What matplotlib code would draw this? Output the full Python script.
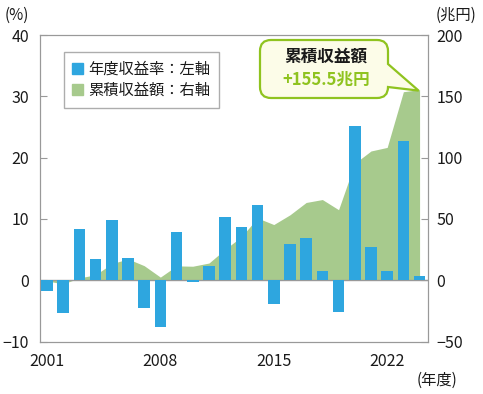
import matplotlib
matplotlib.use("Agg")
import matplotlib.pyplot as plt
import matplotlib.transforms as mtransforms
from matplotlib.path import Path
from matplotlib.patches import Patch, PathPatch

plt.rcParams['font.family'] = ['Noto Sans CJK JP', 'DejaVu Sans']

# fiscal years and values
years = list(range(2001, 2025))
rate = [-1.80, -5.36, 8.40, 3.39, 9.88, 3.70, -4.59, -7.57, 7.91, -0.25,
        2.32, 10.23, 8.64, 12.27, -3.81, 5.86, 6.90, 1.52, -5.20, 25.15,
        5.42, 1.50, 22.67, 0.71]
cum = [-0.58, -3.04, 1.85, 4.46, 13.42, 17.36, 11.85, 2.51, 11.69, 11.39,
       14.00, 25.22, 35.43, 50.72, 45.39, 53.32, 63.40, 65.78, 57.50, 95.30,
       105.39, 108.31, 153.73, 155.46]
xticks = [2001, 2008, 2015, 2022]
left_ticks = [-10, 0, 10, 20, 30, 40]
right_ticks = [-50, 0, 50, 100, 150, 200]

blue = '#2ea6df'
green = '#a7ca8d'
lime = '#8fc31f'
grey = '#999999'
txt = '#1a1a1a'

W, H = 483, 394
fig = plt.figure(figsize=(W / 100, H / 100), dpi=100)
ax = fig.add_axes([40 / W, 1 - 341.5 / H, 388 / W, 306.5 / H])
ax2 = ax.twinx()
ax.set_zorder(ax2.get_zorder() + 1)
ax.patch.set_visible(False)

ax2.fill_between(years, cum, 0, color=green, lw=0)
ax.bar(years, rate, width=0.72, color=blue, zorder=3)
ax.axhline(0, color=grey, lw=1, zorder=2)

ax.set_xlim(2000.57, 2024.52)
ax.set_ylim(-10, 40)
ax2.set_ylim(-50, 200)
ax.set_xticks(xticks)
ax.set_yticks(left_ticks)
ax2.set_yticks(right_ticks)

for a in (ax, ax2):
    for s in a.spines.values():
        s.set_color(grey)
ax.tick_params(axis='y', direction='in', length=5, color=grey, pad=8,
               labelsize=11.5, labelcolor=txt)
ax2.tick_params(axis='y', direction='in', length=5, color=grey, pad=6,
                labelsize=11.5, labelcolor=txt)
ax.tick_params(axis='x', length=0, pad=8, labelsize=11.5, labelcolor=txt)

handles = [Patch(color=blue), Patch(color=green)]
leg = ax.legend(handles, ['年度収益率：左軸', '累積収益額：右軸'],
                loc='upper left', bbox_to_anchor=(0.062, 0.944),
                borderaxespad=0, fontsize=11, fancybox=False,
                handlelength=0.7, handleheight=0.7, handletextpad=0.35,
                borderpad=0.55, labelspacing=0.3, frameon=True)
leg.get_frame().set_edgecolor(grey)
leg.get_frame().set_linewidth(1)
for t in leg.get_texts():
    t.set_color(txt)

fig.text(17 / W, 1 - 15 / H, '(%)', ha='center', va='center', fontsize=11, color=txt)
fig.text(456 / W, 1 - 15 / H, '(兆円)', ha='center', va='center', fontsize=11, color=txt)
fig.text(437 / W, 1 - 380 / H, '(年度)', ha='center', va='center', fontsize=11, color=txt)

# callout bubble (pixel coords, y downward)
fig.canvas.draw()
tx, ty = ax2.transData.transform((years[-1], cum[-1]))
ty = H - ty
x0, x1, y0, y1, r = 260, 388, 40, 98, 11
verts = [(x0 + r, y0), (x1 - r, y0), (x1, y0), (x1, y0 + r),
         (x1, 64), (tx - 1, ty + 1), (x1, 87),
         (x1, y1 - r), (x1, y1), (x1 - r, y1),
         (x0 + r, y1), (x0, y1), (x0, y1 - r),
         (x0, y0 + r), (x0, y0), (x0 + r, y0), (x0 + r, y0)]
codes = [Path.MOVETO, Path.LINETO, Path.CURVE3, Path.CURVE3,
         Path.LINETO, Path.LINETO, Path.LINETO,
         Path.LINETO, Path.CURVE3, Path.CURVE3,
         Path.LINETO, Path.CURVE3, Path.CURVE3,
         Path.LINETO, Path.CURVE3, Path.CURVE3, Path.CLOSEPOLY]
pix = mtransforms.Affine2D().scale(1, -1).translate(0, H)
bubble = PathPatch(Path(verts, codes), facecolor='#fcfce8', edgecolor=lime,
                   lw=1.6, transform=pix, zorder=10)
fig.patches.append(bubble)
fig.text(326 / W, 1 - 57 / H, '累積収益額', ha='center', va='center',
         fontsize=12, fontweight='bold', color=txt, zorder=11)
fig.text(326 / W, 1 - 80 / H, '+155.5兆円', ha='center', va='center',
         fontsize=12, fontweight='bold', color=lime, zorder=11)

fig.savefig('out.png', dpi=100)
